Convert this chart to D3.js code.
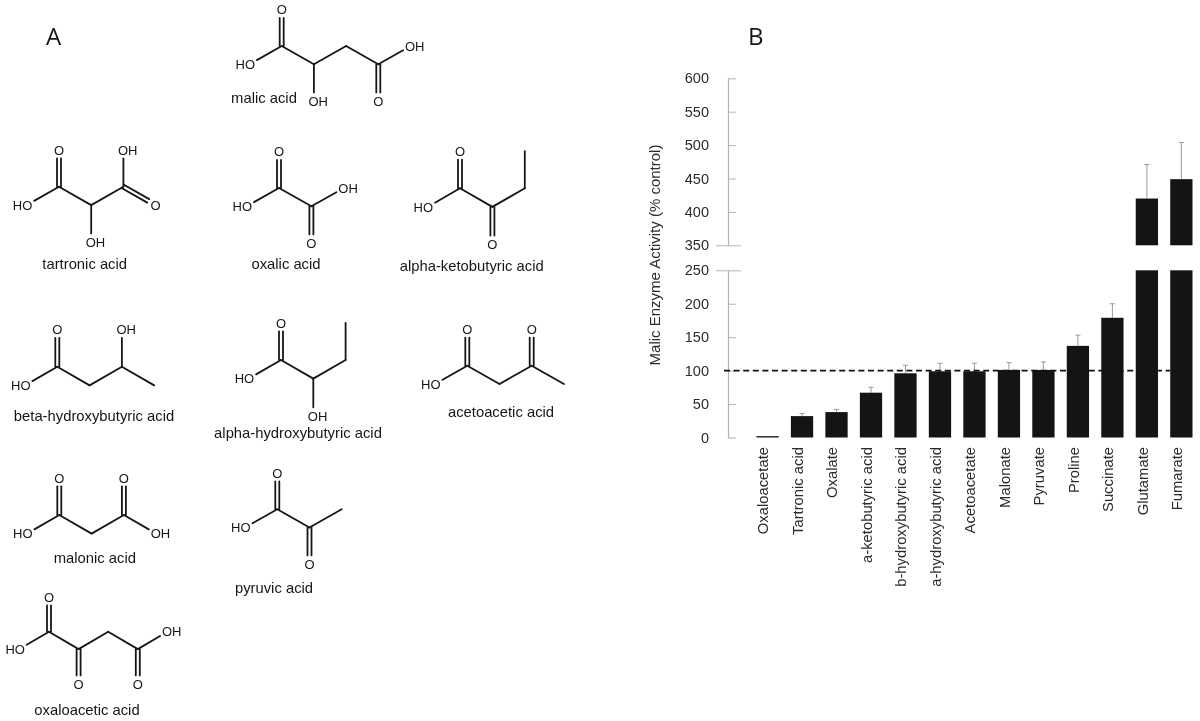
<!DOCTYPE html>
<html><head><meta charset="utf-8">
<script src="https://cdn.jsdelivr.net/npm/d3@7/dist/d3.min.js"></script>
<style>html,body{margin:0;padding:0;background:#fff}svg{display:block;filter:blur(0.35px)}</style>
</head><body><svg id="c" width="1200" height="721"></svg>
<script>
// ---- Panel B data ----
const categories = ["Oxaloacetate","Tartronic acid","Oxalate","a-ketobutyric acid","b-hydroxybutyric acid","a-hydroxybutyric acid","Acetoacetate","Malonate","Pyruvate","Proline","Succinate","Glutamate","Fumarate"];
const activity   = [2,32,38,67,96,99,99,101,101,137,179,420,449];
const errorTop   = [2,36,42,75,108,111,111,112,113,153,200,471,504];
const lowerTicks = [0,50,100,150,200,250];
const upperTicks = [350,400,450,500,550,600];
const yTitle = "Malic Enzyme Activity (% control)";
const controlLevel = 100;

// ---- Panel A data: atoms [id, col, row, label], bonds [a, b, order] on a zig-zag lattice ----
const malicAtoms = [["c1",0,0],["o1",0,-2,"O"],["oh1",-1,1,"HO"],["c2",1,1],["oh2",1,3,"OH"],["c3",2,0],["c4",3,1],["o2",3,3,"O"],["oh3",4,0,"OH"]];
const malicBonds = [["c1","o1",2],["c1","oh1",1],["c1","c2",1],["c2","oh2",1],["c2","c3",1],["c3","c4",1],["c4","o2",2],["c4","oh3",1]];
const tartronicAtoms = [["c1",0,0],["o1",0,-2,"O"],["oh1",-1,1,"HO"],["c2",1,1],["oh2",1,3,"OH"],["c3",2,0],["oh3",2,-2,"OH"],["o2",3,1,"O"]];
const tartronicBonds = [["c1","o1",2],["c1","oh1",1],["c1","c2",1],["c2","oh2",1],["c2","c3",1],["c3","oh3",1],["c3","o2",2]];
const oxalicAtoms = [["c1",0,0],["o1",0,-2,"O"],["oh1",-1,1,"HO"],["c2",1,1],["o2",1,3,"O"],["oh2",2,0,"OH"]];
const oxalicBonds = [["c1","o1",2],["c1","oh1",1],["c1","c2",1],["c2","o2",2],["c2","oh2",1]];
const ketobutyricAtoms = [["c1",0,0],["o1",0,-2,"O"],["oh1",-1,1,"HO"],["c2",1,1],["o2",1,3,"O"],["c3",2,0],["c4",2,-2]];
const ketobutyricBonds = [["c1","o1",2],["c1","oh1",1],["c1","c2",1],["c2","o2",2],["c2","c3",1],["c3","c4",1]];
const betaHydroxyAtoms = [["c1",0,0],["o1",0,-2,"O"],["oh1",-1,1,"HO"],["c2",1,1],["c3",2,0],["oh2",2,-2,"OH"],["c4",3,1]];
const betaHydroxyBonds = [["c1","o1",2],["c1","oh1",1],["c1","c2",1],["c2","c3",1],["c3","oh2",1],["c3","c4",1]];
const alphaHydroxyAtoms = [["c1",0,0],["o1",0,-2,"O"],["oh1",-1,1,"HO"],["c2",1,1],["oh2",1,3,"OH"],["c3",2,0],["c4",2,-2]];
const alphaHydroxyBonds = [["c1","o1",2],["c1","oh1",1],["c1","c2",1],["c2","oh2",1],["c2","c3",1],["c3","c4",1]];
const acetoaceticAtoms = [["c1",0,0],["o1",0,-2,"O"],["oh1",-1,1,"HO"],["c2",1,1],["c3",2,0],["o2",2,-2,"O"],["c4",3,1]];
const acetoaceticBonds = [["c1","o1",2],["c1","oh1",1],["c1","c2",1],["c2","c3",1],["c3","o2",2],["c3","c4",1]];
const malonicAtoms = [["c1",0,0],["o1",0,-2,"O"],["oh1",-1,1,"HO"],["c2",1,1],["c3",2,0],["o2",2,-2,"O"],["oh2",3,1,"OH"]];
const malonicBonds = [["c1","o1",2],["c1","oh1",1],["c1","c2",1],["c2","c3",1],["c3","o2",2],["c3","oh2",1]];
const pyruvicAtoms = [["c1",0,0],["o1",0,-2,"O"],["oh1",-1,1,"HO"],["c2",1,1],["o2",1,3,"O"],["c3",2,0]];
const pyruvicBonds = [["c1","o1",2],["c1","oh1",1],["c1","c2",1],["c2","o2",2],["c2","c3",1]];
const oxaloaceticAtoms = [["c1",0,0],["o1",0,-2,"O"],["oh1",-1,1,"HO"],["c2",1,1],["o2",1,3,"O"],["c3",2,0],["c4",3,1],["o3",3,3,"O"],["oh2",4,0,"OH"]];
const oxaloaceticBonds = [["c1","o1",2],["c1","oh1",1],["c1","c2",1],["c2","o2",2],["c2","c3",1],["c3","c4",1],["c4","o3",2],["c4","oh2",1]];

// name, origin x, origin y, cell width, cell height, caption x, caption baseline, atoms, bonds
const molecules = [
 ["malic acid",281.7,46,32.2,18.3,264,103,malicAtoms,malicBonds],
 ["tartronic acid",59,186.7,32.2,18.4,84.7,269,tartronicAtoms,tartronicBonds],
 ["oxalic acid",279,188,32.4,18.3,286,269,oxalicAtoms,oxalicBonds],
 ["alpha-ketobutyric acid",460,188.3,32.4,18.6,471.7,270.5,ketobutyricAtoms,ketobutyricBonds],
 ["beta-hydroxybutyric acid",57.3,366.7,32.3,18.7,94,421,betaHydroxyAtoms,betaHydroxyBonds],
 ["alpha-hydroxybutyric acid",281,360,32.3,18.6,298,438,alphaHydroxyAtoms,alphaHydroxyBonds],
 ["acetoacetic acid",467.3,365.7,32.2,18.3,501,417,acetoaceticAtoms,acetoaceticBonds],
 ["malonic acid",59.3,515,32.3,18.6,94.8,563,malonicAtoms,malonicBonds],
 ["pyruvic acid",277.3,509.3,32.2,18.2,274,592.7,pyruvicAtoms,pyruvicBonds],
 ["oxaloacetic acid",49,631.7,29.6,17.4,87,715,oxaloaceticAtoms,oxaloaceticBonds]
];

const FONT = "'Liberation Sans',Arial,sans-serif";
const INK = "#161616";
const svg = d3.select("#c");

// ---- Panel letters ----
svg.selectAll("text.panel").data([["A",46,45],["B",748,45]]).join("text")
  .attr("class","panel").attr("x",d=>d[1]).attr("y",d=>d[2]).text(d=>d[0])
  .attr("font-family","'Open Sans',sans-serif").attr("font-size",24).attr("fill",INK);

// ---- Molecules ----
molecules.forEach(([name,ox,oy,cw,ch,capX,capY,atoms,bonds])=>{
  const g = svg.append("g").attr("class","molecule");
  const sx = d3.scaleLinear().domain([0,1]).range([ox,ox+cw]);
  const sy = d3.scaleLinear().domain([0,1]).range([oy,oy+ch]);
  const byId = new Map(atoms.map(a=>[a[0],a]));
  bonds.forEach(([a,b,order])=>{
    const A = byId.get(a), B = byId.get(b);
    let x1=sx(A[1]),y1=sy(A[2]),x2=sx(B[1]),y2=sy(B[2]);
    const len = Math.hypot(x2-x1,y2-y1), ux=(x2-x1)/len, uy=(y2-y1)/len;
    const trim = B[3] ? 8.5 : 0;
    x2-=ux*trim; y2-=uy*trim;
    const offs = order===2 ? [-2,2] : [0];
    offs.forEach(o=>{
      g.append("line").attr("x1",x1-uy*o).attr("y1",y1+ux*o).attr("x2",x2-uy*o).attr("y2",y2+ux*o)
        .attr("stroke",INK).attr("stroke-width",1.8).attr("stroke-linecap","round");
    });
  });
  g.selectAll("text.atom").data(atoms.filter(a=>a[3])).join("text")
    .attr("class","atom")
    .attr("x",d=>sx(d[1])+(d[3]==="HO"?5.5:d[3]==="OH"?-5.5:0))
    .attr("y",d=>sy(d[2])+4.7)
    .attr("text-anchor",d=>d[3]==="HO"?"end":d[3]==="OH"?"start":"middle")
    .attr("font-family",FONT).attr("font-size",13).attr("fill",INK).text(d=>d[3]);
  g.append("text").attr("x",capX).attr("y",capY).attr("text-anchor","middle")
    .attr("font-family",FONT).attr("font-size",14.8).attr("fill",INK).text(name);
});

// ---- Panel B ----
const axisX = 728;
const yLow = d3.scaleLinear().domain([0,250]).range([437.5,270.3]);
const yHigh = d3.scaleLinear().domain([350,600]).range([245.3,78.3]);
const x = d3.scaleBand().domain(categories).range([756.4,1192.5]).paddingInner(0.354).paddingOuter(0);
const AXIS = "#b5b5b5";

function drawAxis(scale, ticks){
  const g = svg.append("g").attr("transform",`translate(${axisX},0)`)
   .call(d3.axisLeft(scale).tickValues(ticks).tickSizeInner(-8).tickSizeOuter(0).tickPadding(19));
  g.select(".domain").attr("stroke",AXIS).attr("stroke-width",1.2);
  g.selectAll(".tick line").attr("stroke",AXIS).attr("stroke-width",1)
    .filter(d=>d===250||d===350).attr("x1",-12).attr("x2",13);
  g.selectAll(".tick text").attr("font-family",FONT).attr("font-size",14.5).attr("fill","#2b2b2b");
}
drawAxis(yLow, lowerTicks);
drawAxis(yHigh, upperTicks);

const rows = categories.map((c,i)=>({c,v:activity[i],e:errorTop[i]}));
const yAny = v => v>=350 ? yHigh(v) : yLow(v);

// error bars
const eb = svg.append("g");
eb.selectAll("line.stem").data(rows).join("line").attr("class","stem")
  .attr("x1",d=>x(d.c)+x.bandwidth()/2).attr("x2",d=>x(d.c)+x.bandwidth()/2)
  .attr("y1",d=>yAny(d.v)).attr("y2",d=>yAny(d.e)).attr("stroke","#9a9a9a").attr("stroke-width",1);
eb.selectAll("line.cap").data(rows.slice(1)).join("line").attr("class","cap")
  .attr("x1",d=>x(d.c)+x.bandwidth()/2-2.5).attr("x2",d=>x(d.c)+x.bandwidth()/2+2.5)
  .attr("y1",d=>yAny(d.e)).attr("y2",d=>yAny(d.e)).attr("stroke","#9a9a9a").attr("stroke-width",1);

// bars (split across the axis break where needed)
const segs = rows.flatMap(d=> d.v>=350
  ? [{c:d.c,a:0,b:250,s:yLow},{c:d.c,a:350,b:d.v,s:yHigh}]
  : [{c:d.c,a:0,b:d.v,s:yLow}]);
svg.append("g").selectAll("rect").data(segs).join("rect")
  .attr("x",d=>x(d.c)).attr("width",x.bandwidth())
  .attr("y",d=>d.s(d.b)).attr("height",d=>d.s(d.a)-d.s(d.b)).attr("fill","#141414");

// control line
svg.append("line").attr("x1",axisX-4).attr("x2",x("Fumarate"))
  .attr("y1",yLow(controlLevel)).attr("y2",yLow(controlLevel))
  .attr("stroke","#111").attr("stroke-width",1.6).attr("stroke-dasharray","6,3.6");

// category labels
svg.append("g").selectAll("text").data(categories).join("text")
  .attr("transform",d=>`translate(${x(d)+x.bandwidth()/2+0.7},447) rotate(-90)`)
  .attr("text-anchor","end").attr("font-family",FONT).attr("font-size",14.8).attr("fill","#2b2b2b").text(d=>d);

// y title
svg.append("text").attr("transform","translate(660,255) rotate(-90)").attr("text-anchor","middle")
  .attr("font-family",FONT).attr("font-size",15).attr("fill","#2b2b2b").text(yTitle);
</script></body></html>
